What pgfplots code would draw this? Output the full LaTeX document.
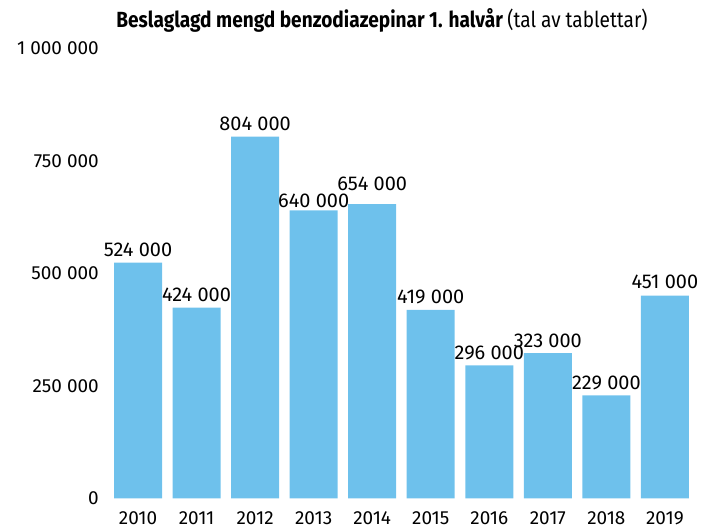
\documentclass[border=0pt]{standalone}
\usepackage{fontspec}
\setmainfont{Fira Sans}
\newfontfamily\titlefont[FakeStretch=0.87]{Fira Sans}
\usepackage{pgfplots}
\usepackage{pgfplotstable}
\pgfplotsset{compat=1.18}
\definecolor{barblue}{RGB}{110,193,236}
\pgfplotstableread[col sep=comma]{
x,y,lab,dy
0,524000,524 000,6
1,424000,424 000,6
2,804000,804 000,6
3,640000,640 000,2.5
4,654000,654 000,14
5,419000,419 000,6
6,296000,296 000,6
7,323000,323 000,6
8,229000,229 000,6
9,451000,451 000,7
}\data
\begin{document}
\begin{tikzpicture}[x=1bp,y=1bp]
\path[use as bounding box] (0,0) rectangle (704,529);
\begin{axis}[
  at={(102.9bp,30.5bp)}, anchor=south west,
  scale only axis,
  width=597.1bp, height=450bp,
  xmin=-0.6, xmax=9.6,
  ymin=0, ymax=1000000,
  axis line style={draw=none},
  major tick length=0pt,
  xtick={0,...,9},
  xticklabels={2010,2011,2012,2013,2014,2015,2016,2017,2018,2019},
  ytick={0,250000,500000,750000,1000000},
  yticklabels={0,250 000,500 000,750 000,1 000 000},
  yticklabel style={font=\fontsize{19}{22}\selectfont, anchor=east, inner sep=0pt, xshift=-4bp},
  xticklabel style={font=\fontsize{19}{22}\selectfont, anchor=north, inner sep=0pt, yshift=-13bp},
  ybar, bar width=48bp,
  scaled y ticks=false,
  clip=false,
  visualization depends on={\thisrow{dy} \as \dy},
  nodes near coords={\pgfplotspointmeta},
  point meta=explicit symbolic,
  every node near coord/.style={font=\fontsize{20}{24}\selectfont, anchor=base, inner sep=0pt, yshift=\dy bp, text=black},
]
\addplot[fill=barblue, draw=none] table[x=x, y=y, meta=lab] {\data};
\end{axis}
\node[anchor=base, inner sep=0pt] at (382,501) {\titlefont\fontsize{22}{26}\selectfont\bfseries Beslaglagd mengd benzodiazepinar 1. halvår \mdseries (tal av tablettar)};
\end{tikzpicture}
\end{document}
